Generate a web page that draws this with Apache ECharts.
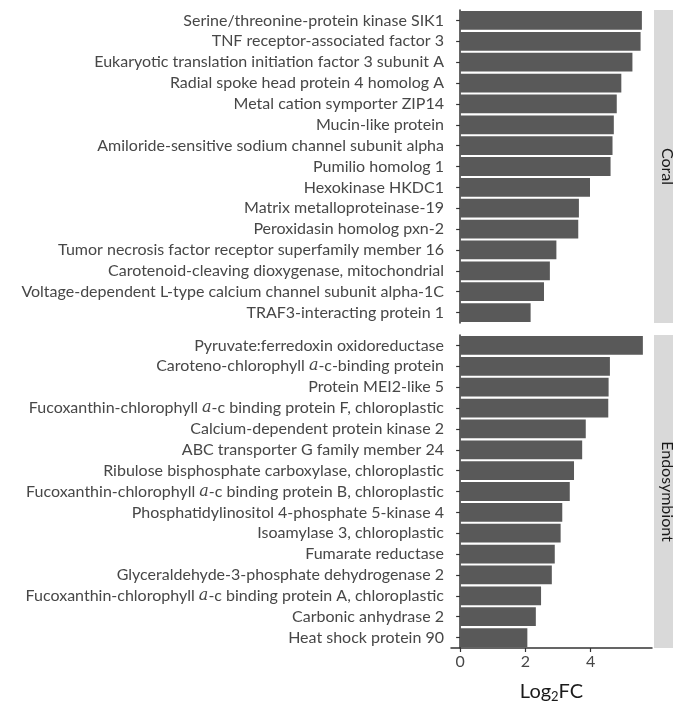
<!DOCTYPE html>
<html>
<head>
<meta charset="utf-8">
<script src="https://cdn.jsdelivr.net/npm/echarts@6/dist/echarts.min.js"></script>
<style>
  html, body { margin: 0; padding: 0; background: #fff; }
  #chart { width: 673px; height: 702px; }
</style>
</head>
<body>
<div id="chart"></div>
<script>
// Up-regulated genes (Log2 fold change), one facet per organism
const coralGenes = [
  "Serine/threonine-protein kinase SIK1",
  "TNF receptor-associated factor 3",
  "Eukaryotic translation initiation factor 3 subunit A",
  "Radial spoke head protein 4 homolog A",
  "Metal cation symporter ZIP14",
  "Mucin-like protein",
  "Amiloride-sensitive sodium channel subunit alpha",
  "Pumilio homolog 1",
  "Hexokinase HKDC1",
  "Matrix metalloproteinase-19",
  "Peroxidasin homolog pxn-2",
  "Tumor necrosis factor receptor superfamily member 16",
  "Carotenoid-cleaving dioxygenase, mitochondrial",
  "Voltage-dependent L-type calcium channel subunit alpha-1C",
  "TRAF3-interacting protein 1"
];
const coralLog2FC = [5.57, 5.53, 5.28, 4.94, 4.80, 4.71, 4.67, 4.61, 3.98, 3.64, 3.62, 2.95, 2.75, 2.57, 2.16];

const symbiontGenes = [
  "Pyruvate:ferredoxin oxidoreductase",
  "Caroteno-chlorophyll a-c-binding protein",
  "Protein MEI2-like 5",
  "Fucoxanthin-chlorophyll a-c binding protein F, chloroplastic",
  "Calcium-dependent protein kinase 2",
  "ABC transporter G family member 24",
  "Ribulose bisphosphate carboxylase, chloroplastic",
  "Fucoxanthin-chlorophyll a-c binding protein B, chloroplastic",
  "Phosphatidylinositol 4-phosphate 5-kinase 4",
  "Isoamylase 3, chloroplastic",
  "Fumarate reductase",
  "Glyceraldehyde-3-phosphate dehydrogenase 2",
  "Fucoxanthin-chlorophyll a-c binding protein A, chloroplastic",
  "Carbonic anhydrase 2",
  "Heat shock protein 90"
];
const symbiontLog2FC = [5.60, 4.59, 4.55, 4.54, 3.85, 3.74, 3.49, 3.36, 3.13, 3.08, 2.90, 2.81, 2.48, 2.32, 2.06];

const facetNames = ["Coral", "Endosymbiont"];
const xTicks = [0, 2, 4];

const FONT = "Lato, 'Open Sans', sans-serif";
const BAR = "#595959";
const AXIS = "#333333";
const LABEL = "#474747";

// geometry of the two stacked panels
const panelLeft = 451, panelRight = 21, panelH = 313;
const panelTops = [10, 335];
const xMin = -0.28, xMax = 5.88;

// italicise the "a" in "chlorophyll a-c"
function geneLabel(s) {
  return s.replace(/chlorophyll a-c/, "chlorophyll {i|a}-c");
}

const grids = panelTops.map(t => ({
  left: panelLeft, right: panelRight, top: t, height: panelH,
  containLabel: false, outerBoundsMode: 'none'
}));

const xAxes = [0, 1].map(i => ({
  type: 'value', gridIndex: i, min: xMin, max: xMax,
  splitLine: { show: false },
  axisLine: { show: i === 1, onZero: false, lineStyle: { color: AXIS, width: 1.5 } },
  axisTick: { show: i === 1, customValues: xTicks, length: 4, lineStyle: { color: AXIS, width: 1.2 } },
  axisLabel: {
    show: i === 1, customValues: xTicks, color: LABEL, fontSize: 16,
    fontFamily: FONT, margin: 6
  },
  name: i === 1 ? 'Log{sub|2}FC' : '',
  nameLocation: 'middle', nameGap: 33,
  nameTextStyle: {
    fontSize: 20, color: '#1a1a1a', fontFamily: FONT,
    rich: { sub: { fontSize: 13, verticalAlign: 'bottom', padding: [9, 0, 0, 0], color: '#1a1a1a', fontFamily: FONT } }
  }
}));

const yAxes = [coralGenes, symbiontGenes].map((cats, i) => ({
  type: 'category', gridIndex: i, data: cats, inverse: true,
  axisLine: { show: true, lineStyle: { color: AXIS, width: 1.5 } },
  axisTick: { show: true, alignWithLabel: true, length: 4, lineStyle: { color: AXIS, width: 1.2 } },
  axisLabel: {
    interval: 0, color: LABEL, fontSize: 16, fontFamily: FONT, margin: 7,
    formatter: geneLabel,
    rich: { i: { fontStyle: 'italic', fontFamily: "'DejaVu Serif', serif", fontSize: 16, color: LABEL } }
  }
}));

const series = [coralLog2FC, symbiontLog2FC].map((vals, i) => ({
  type: 'bar', xAxisIndex: i, yAxisIndex: i, data: vals,
  barCategoryGap: '10%', itemStyle: { color: BAR },
  silent: true, animation: false
}));

// facet strips on the right-hand side
const graphics = [];
panelTops.forEach((t, i) => {
  graphics.push({
    type: 'rect', left: 654, top: t, shape: { width: 19, height: panelH },
    style: { fill: '#d9d9d9' }, silent: true
  });
  graphics.push({
    type: 'text', x: 667, y: t + panelH / 2, rotation: -Math.PI / 2,
    style: {
      text: facetNames[i], fill: '#1a1a1a', fontSize: 16, fontFamily: FONT,
      align: 'center', verticalAlign: 'middle'
    }, silent: true
  });
});

const chart = echarts.init(document.getElementById('chart'), null, { renderer: 'canvas' });
chart.setOption({
  backgroundColor: '#ffffff',
  animation: false,
  grid: grids,
  xAxis: xAxes,
  yAxis: yAxes,
  series: series,
  graphic: graphics
});
</script>
</body>
</html>
